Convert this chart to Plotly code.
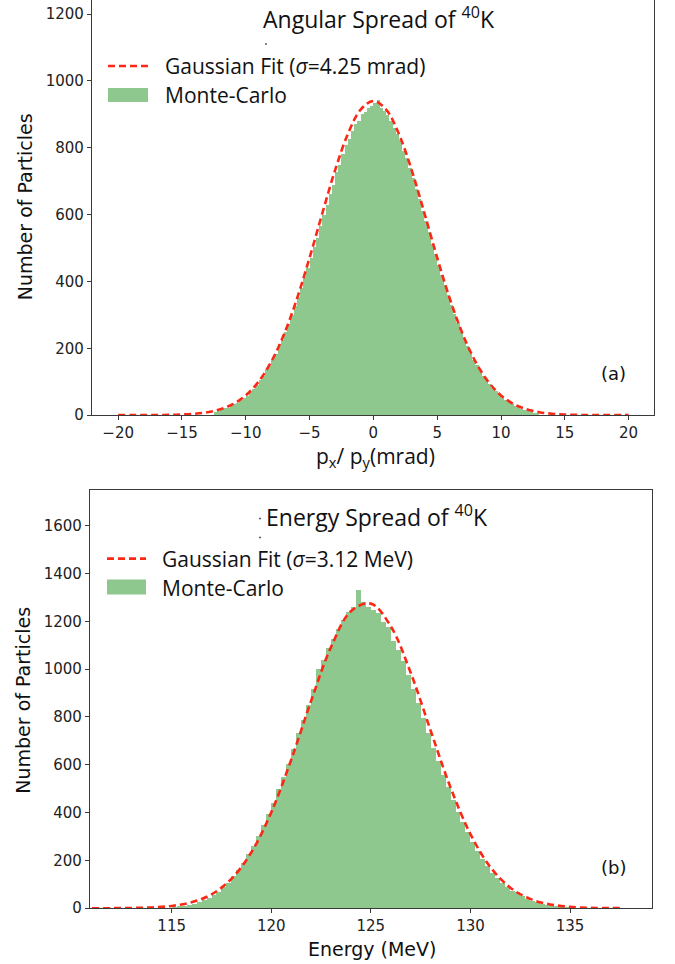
import numpy as np
import plotly.graph_objects as go

# ---------------- data ----------------
# (a) angular spread histogram, bins of 0.25 mrad starting at -12.5 mrad
ang_bin_start = -12.5
ang_bin_width = 0.25
ang_counts = [
    8, 12, 15, 20, 22, 28, 33, 37, 45, 52,
    58, 70, 78, 90, 104, 116, 138, 146, 166, 183,
    212, 226, 250, 272, 300, 326, 352, 380, 412, 440,
    470, 502, 530, 566, 598, 630, 662, 690, 726, 748,
    780, 808, 826, 850, 872, 880, 900, 906, 918, 925,
    935, 942, 920, 910, 898, 880, 858, 842, 822, 790,
    768, 738, 710, 678, 646, 612, 580, 548, 512, 482,
    450, 418, 390, 358, 330, 302, 276, 250, 228, 206,
    186, 165, 150, 132, 118, 105, 92, 80, 71, 60,
    53, 45, 39, 33, 28, 24, 19, 16, 13, 10,
    7, 5,
]
# (a) Gaussian fit curve, read at 1 mrad steps from -20 to 20
ang_fit_x = list(range(-20, 21))
ang_fit_y = [
    0.0, 0.0, 0.1, 0.3, 0.8, 1.9, 4.1, 8.7, 17.5, 33,
    59, 100, 160, 242, 347, 471, 604, 733, 841, 914,
    940,
    914, 841, 733, 604, 471, 347, 242, 160, 100, 59,
    33, 17.5, 8.7, 4.1, 1.9, 0.8, 0.3, 0.1, 0.0, 0.0,
]

# (b) energy spread histogram, bins of 0.25 MeV starting at 115 MeV
en_bin_start = 115.0
en_bin_width = 0.25
en_counts = [
    6, 9, 12, 16, 20, 27, 34, 44, 56, 70,
    88, 108, 134, 160, 192, 226, 262, 305, 350, 396,
    440, 498, 548, 606, 668, 735, 790, 850, 918, 1000,
    1040, 1090, 1125, 1170, 1205, 1240, 1262, 1330, 1280, 1262,
    1250, 1235, 1200, 1178, 1120, 1080, 1035, 975, 918, 858,
    795, 735, 672, 618, 560, 508, 455, 405, 362, 318,
    278, 240, 205, 178, 150, 126, 108, 90, 75, 70,
    50, 40, 32, 25, 20, 16, 12, 9, 7, 5,
]
# (b) Gaussian fit curve, read at 1 MeV steps
en_fit_x = [111, 112, 113, 114, 115, 116, 117, 118, 119, 120, 121, 122, 123, 124,
            125, 126, 127, 128, 129, 130, 131, 132, 133, 134, 135, 136, 137, 137.5]
en_fit_y = [0.1, 0.3, 1.1, 3.4, 9.7, 25, 58, 123, 234, 401, 621, 867, 1092, 1242,
            1274, 1179, 985, 743, 505, 310, 172, 86, 39, 16, 5.8, 1.9, 0.6, 0.3]

top_ticks_x = [-20, -15, -10, -5, 0, 5, 10, 15, 20]
top_ticks_y = [0, 200, 400, 600, 800, 1000, 1200]
bot_ticks_x = [115, 120, 125, 130, 135]
bot_ticks_y = [0, 200, 400, 600, 800, 1000, 1200, 1400, 1600]

# ---------------- figure ----------------
W, H = 675, 974      # page height; layout positions below are laid out on a 964-tall frame
REF_H = 964
GREEN = "rgb(143,200,143)"
RED = "rgb(250,40,20)"
AX = "#3a3a3a"
TICKFONT = dict(family="DejaVu Sans", size=15, color="#222")
SANS = "Open Sans"

ang_x = ang_bin_start + ang_bin_width * (np.arange(len(ang_counts)) + 0.5)
en_x = en_bin_start + en_bin_width * (np.arange(len(en_counts)) + 0.5)

fig = go.Figure()
fig.add_trace(go.Bar(x=ang_x, y=ang_counts, width=ang_bin_width,
                     marker=dict(color=GREEN, line=dict(width=0)),
                     xaxis="x", yaxis="y", showlegend=False))
fig.add_trace(go.Scatter(x=ang_fit_x, y=ang_fit_y, mode="lines",
                         line=dict(color=RED, width=2.6, dash="7px,4px", shape="spline"),
                         xaxis="x", yaxis="y", showlegend=False))
fig.add_trace(go.Bar(x=en_x, y=en_counts, width=en_bin_width,
                     marker=dict(color=GREEN, line=dict(width=0)),
                     xaxis="x2", yaxis="y2", showlegend=False))
fig.add_trace(go.Scatter(x=en_fit_x, y=en_fit_y, mode="lines",
                         line=dict(color=RED, width=2.6, dash="7px,4px", shape="spline"),
                         xaxis="x2", yaxis="y2", showlegend=False))


def px(x):
    return x / W


def py(y):
    return 1 - y / REF_H


axis_common = dict(showgrid=False, zeroline=False, showline=True, linecolor=AX,
                   linewidth=1.2, ticks="outside", ticklen=4, tickwidth=1,
                   tickcolor=AX, tickfont=TICKFONT)

fig.update_layout(
    width=W, height=H,
    margin=dict(l=0, r=0, t=0, b=0),
    paper_bgcolor="white", plot_bgcolor="white",
    bargap=0, barmode="overlay",
    xaxis=dict(domain=[px(92), px(653.5)], range=[-22.05, 21.95], anchor="y",
               tickvals=top_ticks_x, **axis_common),
    yaxis=dict(domain=[py(414.7), 1.0], range=[0, 1242], anchor="x",
               tickvals=top_ticks_y, mirror=True, **axis_common),
    xaxis2=dict(domain=[px(90), px(651.7)], range=[110.9, 139.1], anchor="y2",
                tickvals=bot_ticks_x, mirror=True, **axis_common),
    yaxis2=dict(domain=[py(907.3), py(489.3)], range=[0, 1750], anchor="x2",
                tickvals=bot_ticks_y, mirror=True, **axis_common),
    showlegend=False,
)

ann = []
shapes = []


def text(x, y, s, size, family=SANS, angle=0, xanchor="center"):
    ann.append(dict(x=px(x), y=py(y), xref="paper", yref="paper", text=s,
                    showarrow=False, xanchor=xanchor, yanchor="middle",
                    textangle=angle, font=dict(family=family, size=size, color="#111")))


# titles
text(379, 18, "Angular Spread of <sup>40</sup>K", 23)
text(377, 515, "Energy Spread of <sup>40</sup>K", 23)
# axis titles
text(375, 457, "p<sub>x</sub>/ p<sub>y</sub>(mrad)", 21)
text(372, 948, "Energy (MeV)", 19, family="DejaVu Sans")
text(25, 207, "Number of Particles", 19, family="DejaVu Sans", angle=-90)
text(23, 700, "Number of Particles", 19, family="DejaVu Sans", angle=-90)
# panel labels
text(613, 373, "(a)", 18, family="DejaVu Sans")
text(613, 867, "(b)", 18, family="DejaVu Sans")

# legends
text(163, 66, "Gaussian Fit (<i>σ</i>=4.25 mrad)", 21, xanchor="left")
text(163, 95, "Monte-Carlo", 21, xanchor="left")
text(160, 558, "Gaussian Fit (<i>σ</i>=3.12 MeV)", 21, xanchor="left")
text(160, 587, "Monte-Carlo", 21, xanchor="left")

for (x0, x1, yl, yr0, yr1) in [(108, 148, 66, 88, 102), (107, 146, 558, 579, 594)]:
    shapes.append(dict(type="line", xref="paper", yref="paper",
                       x0=px(x0), x1=px(x1), y0=py(yl), y1=py(yl),
                       line=dict(color=RED, width=2.6, dash="7px,4px")))
    shapes.append(dict(type="rect", xref="paper", yref="paper",
                       x0=px(x0), x1=px(x1), y0=py(yr1), y1=py(yr0),
                       fillcolor=GREEN, line=dict(width=0)))

# small stray dots present in the original image
for (dx, dy) in [(266, 44), (260, 518), (260, 537)]:
    shapes.append(dict(type="rect", xref="paper", yref="paper",
                       x0=px(dx - 0.8), x1=px(dx + 0.8), y0=py(dy + 0.8), y1=py(dy - 0.8),
                       fillcolor="#333", line=dict(width=0)))

fig.update_layout(annotations=ann, shapes=shapes)
fig.write_html(
    "out.html",
    config={"displayModeBar": False},
    post_script=(
        "var d=document.documentElement,b=document.body;"
        "d.style.margin='0';d.style.padding='0';d.style.overflow='hidden';"
        "b.style.margin='0';b.style.padding='0';b.style.overflow='hidden';"
    ),
)
